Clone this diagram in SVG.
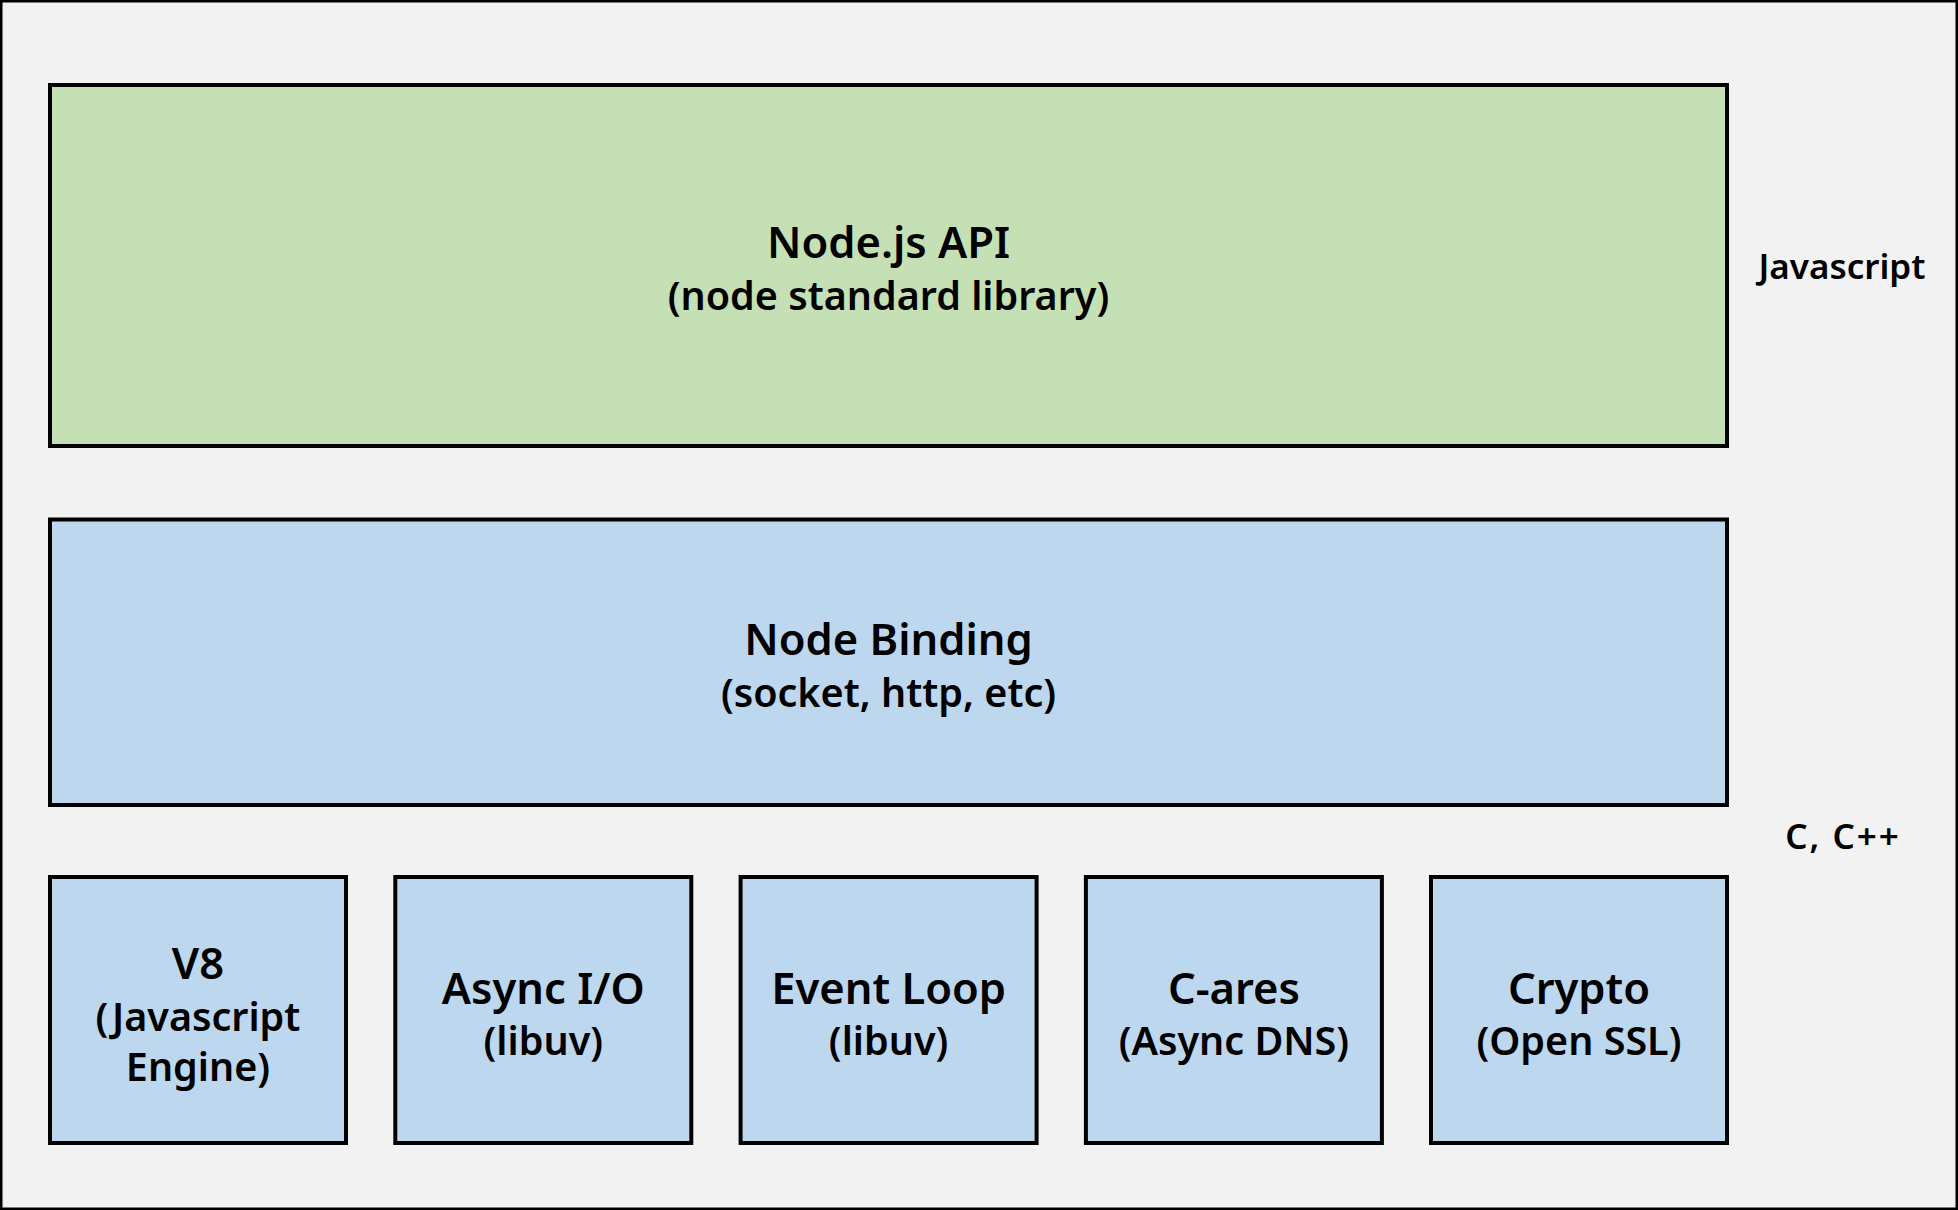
<svg xmlns="http://www.w3.org/2000/svg" width="1958" height="1210" viewBox="0 0 1958 1210">
<style>
.bg{fill:#F2F2F2;stroke:#000;stroke-width:2.5}
.box{stroke:#000;stroke-width:4}
.g{fill:#C5E0B4}
.b{fill:#BDD7EE}
text{font-family:"Noto Sans","Noto Sans CJK KR",sans-serif;fill:#000;text-anchor:middle;font-weight:600}
.t{font-size:43.5px}
.s{font-size:39.5px}
.side{font-size:35px}
</style>
<rect class="bg" x="1.25" y="1.25" width="1955.5" height="1207.5"/>
<g id="node-api">
<rect class="box g" x="50" y="85" width="1677" height="361"/>
<text class="t" x="888.5" y="258">Node.js API</text>
<text class="s" x="888.5" y="310">(node standard library)</text>
</g>
<g id="node-binding">
<rect class="box b" x="50" y="519.5" width="1677" height="285.5"/>
<text class="t" x="888.5" y="655">Node Binding</text>
<text class="s" x="888.5" y="707">(socket, http, etc)</text>
</g>
<g id="v8">
<rect class="box b" x="50" y="877" width="296" height="266"/>
<text class="t" x="198" y="979">V8</text>
<text class="s" x="198" y="1031">(Javascript</text>
<text class="s" x="198" y="1081">Engine)</text>
</g>
<g id="async-io">
<rect class="box b" x="395.3" y="877" width="296" height="266"/>
<text class="t" x="543.3" y="1004">Async I/O</text>
<text class="s" x="543.3" y="1055">(libuv)</text>
</g>
<g id="event-loop">
<rect class="box b" x="740.6" y="877" width="296" height="266"/>
<text class="t" x="888.6" y="1004">Event Loop</text>
<text class="s" x="888.6" y="1055">(libuv)</text>
</g>
<g id="c-ares">
<rect class="box b" x="1085.9" y="877" width="296" height="266"/>
<text class="t" x="1233.9" y="1004">C-ares</text>
<text class="s" x="1233.9" y="1055">(Async DNS)</text>
</g>
<g id="crypto">
<rect class="box b" x="1431" y="877" width="296" height="266"/>
<text class="t" x="1579" y="1004">Crypto</text>
<text class="s" x="1579" y="1055">(Open SSL)</text>
</g>
<g id="label-js">
<text class="side" x="1842" y="279">Javascript</text>
</g>
<g id="label-c">
<text class="side" x="1843" y="849" letter-spacing="2">C, C++</text>
</g>
<g id="connectors"></g>
</svg>
